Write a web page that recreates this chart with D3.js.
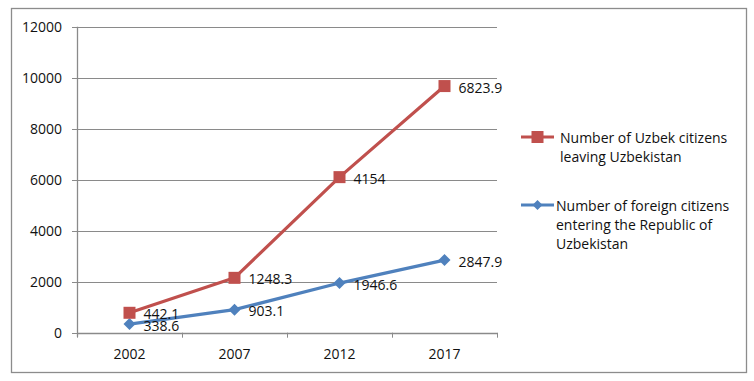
<!DOCTYPE html>
<html><head><meta charset="utf-8">
<script src="https://cdn.jsdelivr.net/npm/d3@7"></script>
<style>body{margin:0;background:#fff}svg text{font-family:"Open Sans",sans-serif;fill:#111}</style>
</head><body><svg id="c" width="754" height="381"></svg>
<script>
const years = ["2002","2007","2012","2017"];
const foreignEntering = [338.6, 903.1, 1946.6, 2847.9];
const uzbekLeaving = [442.1, 1248.3, 4154, 6823.9];
const yTicks = [0,2000,4000,6000,8000,10000,12000];
const seriesNames = ["Number of Uzbek citizens leaving Uzbekistan","Number of foreign citizens entering the Republic of Uzbekistan"];
const legendLines = [["Number of Uzbek citizens","leaving Uzbekistan"],["Number of foreign citizens","entering the Republic of","Uzbekistan"]];

const svg = d3.select("#c");
const fs = 14;
svg.append("rect").attr("x",11.5).attr("y",8.5).attr("width",735).attr("height",364)
  .attr("fill","#fff").attr("stroke","#8c8c8c").attr("stroke-width",1.3);

const x = d3.scaleBand().domain(years).range([77,497]);
const y = d3.scaleLinear().domain([0,12000]).range([332.7,26.7]);
const grid = "#8a8a8a";

svg.append("g").selectAll("line").data(yTicks.filter(d=>d>0)).join("line")
  .attr("x1",77).attr("x2",497).attr("y1",d=>Math.round(y(d))+0.5).attr("y2",d=>Math.round(y(d))+0.5)
  .attr("stroke",grid).attr("stroke-width",1);
// y axis
svg.append("line").attr("x1",77.5).attr("x2",77.5).attr("y1",y(12000)).attr("y2",y(0)+4).attr("stroke",grid).attr("stroke-width",1.3);
svg.append("g").selectAll("line").data(yTicks).join("line")
  .attr("x1",72).attr("x2",77).attr("y1",d=>Math.round(y(d))+0.5).attr("y2",d=>Math.round(y(d))+0.5).attr("stroke",grid);
svg.append("g").selectAll("text").data(yTicks).join("text")
  .attr("x",62).attr("y",d=>y(d)).attr("text-anchor","end").attr("dominant-baseline","central")
  .attr("font-size",fs).text(d=>d);
// x axis
svg.append("line").attr("x1",77).attr("x2",497).attr("y1",Math.round(y(0))+0.5).attr("y2",Math.round(y(0))+0.5).attr("stroke",grid).attr("stroke-width",1.3);
const edges = years.map(d=>x(d)).concat([x.range()[1]]);
svg.append("g").selectAll("line").data(edges).join("line")
  .attr("x1",d=>d+0.5).attr("x2",d=>d+0.5).attr("y1",y(0)).attr("y2",y(0)+5).attr("stroke",grid);
svg.append("g").selectAll("text").data(years).join("text")
  .attr("x",d=>x(d)+x.bandwidth()/2).attr("y",353).attr("text-anchor","middle").attr("dominant-baseline","central")
  .attr("font-size",fs).text(d=>d);

const cx = d=>x(d)+x.bandwidth()/2;
const blue = "#4F81BD", red = "#C0504D";
const stacked = uzbekLeaving.map((v,i)=>v+foreignEntering[i]);
const line = d3.line().x(d=>cx(d[0])).y(d=>y(d[1]));

const blueData = years.map((yr,i)=>[yr,foreignEntering[i]]);
const redData = years.map((yr,i)=>[yr,stacked[i]]);
svg.append("path").attr("d",line(blueData)).attr("fill","none").attr("stroke",blue).attr("stroke-width",3.2).attr("stroke-linejoin","round");
svg.append("path").attr("d",line(redData)).attr("fill","none").attr("stroke",red).attr("stroke-width",3.2).attr("stroke-linejoin","round");

function drawDiamond(g,px,py,s){g.append("path").attr("d",`M${px},${py-s}L${px+s},${py}L${px},${py+s}L${px-s},${py}Z`).attr("fill",blue);}
blueData.forEach(d=>drawDiamond(svg,cx(d[0]),y(d[1]),6));
redData.forEach(d=>svg.append("rect").attr("x",cx(d[0])-6).attr("y",y(d[1])-6).attr("width",12).attr("height",12).attr("fill",red));

// labels
blueData.forEach((d,i)=>svg.append("text").attr("x",cx(d[0])+14).attr("y",y(d[1])+1).attr("dominant-baseline","central").attr("font-size",fs).text(foreignEntering[i]));
redData.forEach((d,i)=>svg.append("text").attr("x",cx(d[0])+14).attr("y",y(d[1])+1).attr("dominant-baseline","central").attr("font-size",fs).text(uzbekLeaving[i]));

// legend
const leg = [{c:red,y:137,lines:legendLines[0],m:"sq"},{c:blue,y:205,lines:legendLines[1],m:"di"}];
leg.forEach(L=>{
  svg.append("line").attr("x1",521).attr("x2",554).attr("y1",L.y).attr("y2",L.y).attr("stroke",L.c).attr("stroke-width",3.2);
  if(L.m==="sq") svg.append("rect").attr("x",531.5).attr("y",L.y-6).attr("width",12).attr("height",12).attr("fill",L.c);
  else drawDiamond(svg,537.5,L.y,5);
  L.lines.forEach((t,k)=>svg.append("text").attr("x",L.m==="sq"?560:556).attr("y",L.y+k*19).attr("dominant-baseline","central").attr("font-size",fs).text(t));
});
</script></body></html>
